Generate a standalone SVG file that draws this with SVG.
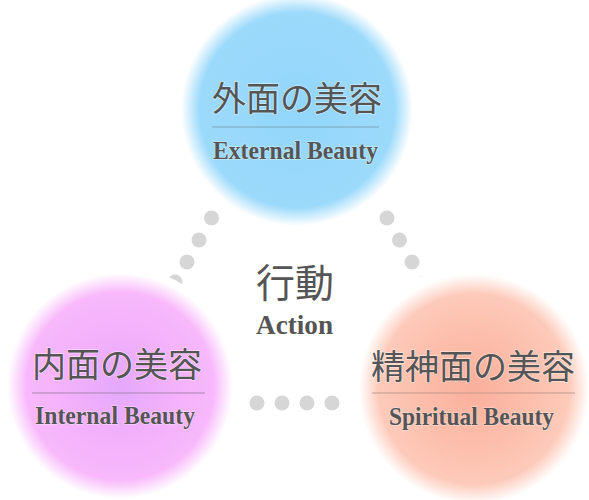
<svg xmlns="http://www.w3.org/2000/svg" width="589" height="500" viewBox="0 0 589 500">
<defs>
<radialGradient id="gBlue" cx="0.5" cy="0.5" r="0.5">
<stop offset="0" stop-color="#92d6fb"/>
<stop offset="0.8" stop-color="#9cdafb"/>
<stop offset="0.95" stop-color="#ffffff"/>
<stop offset="0.99" stop-color="#ffffff"/>
<stop offset="1" stop-color="#ffffff" stop-opacity="0"/>
</radialGradient>
<radialGradient id="gPink" cx="0.5" cy="0.5" r="0.5">
<stop offset="0" stop-color="#e4a8fb"/>
<stop offset="0.4" stop-color="#f2b0fb"/>
<stop offset="0.78" stop-color="#f8b8fb"/>
<stop offset="0.94" stop-color="#ffffff"/>
<stop offset="0.99" stop-color="#ffffff"/>
<stop offset="1" stop-color="#ffffff" stop-opacity="0"/>
</radialGradient>
<radialGradient id="gSalmon" cx="0.5" cy="0.5" r="0.5">
<stop offset="0" stop-color="#f9b09c"/>
<stop offset="0.45" stop-color="#fcbeab"/>
<stop offset="0.76" stop-color="#fdcaba"/>
<stop offset="0.92" stop-color="#ffffff"/>
<stop offset="0.99" stop-color="#ffffff"/>
<stop offset="1" stop-color="#ffffff" stop-opacity="0"/>
</radialGradient>
</defs>
<style>
.dot{fill:#d6d6d6}
.jp{font-family:"Noto Sans CJK JP","Noto Sans CJK SC",sans-serif;font-size:34px;fill:#555555;text-anchor:middle;stroke:#ffffff;stroke-width:1.5;stroke-opacity:0.5;paint-order:stroke}
.en{font-family:"Liberation Serif",serif;font-weight:bold;font-size:25px;fill:#555555;stroke:#ffffff;stroke-width:1.5;stroke-opacity:0.4;paint-order:stroke}
</style>
<rect width="589" height="500" fill="#ffffff"/>
<g id="connectors">
<circle class="dot" cx="211.5" cy="218" r="7.5"/>
<circle class="dot" cx="199" cy="240" r="7.5"/>
<circle class="dot" cx="187" cy="262" r="7.5"/>
<circle class="dot" cx="175" cy="282" r="7.5"/>
<circle class="dot" cx="387" cy="218" r="7.5"/>
<circle class="dot" cx="399.5" cy="240" r="7.5"/>
<circle class="dot" cx="412" cy="262" r="7.5"/>
<circle class="dot" cx="424" cy="283" r="7.5"/>
<circle class="dot" cx="257" cy="403" r="7.5"/>
<circle class="dot" cx="282" cy="403" r="7.5"/>
<circle class="dot" cx="307" cy="403" r="7.5"/>
<circle class="dot" cx="332" cy="403" r="7.5"/>
</g>
<g id="external">
<circle cx="297" cy="110" r="122" fill="url(#gBlue)"/>
<text class="jp" x="297" y="111">外面の美容</text>
<line x1="212" y1="127" x2="379" y2="127" stroke="#7fa6b8" stroke-width="1"/>
<text class="en" x="213" y="159" textLength="165" lengthAdjust="spacingAndGlyphs">External Beauty</text>
</g>
<g id="internal">
<circle cx="120" cy="386" r="120" fill="url(#gPink)"/>
<text class="jp" x="117" y="377">内面の美容</text>
<line x1="32" y1="393" x2="205" y2="393" stroke="#a786ad" stroke-width="1"/>
<text class="en" x="35" y="424" textLength="160" lengthAdjust="spacingAndGlyphs">Internal Beauty</text>
</g>
<g id="spiritual">
<circle cx="474" cy="389" r="125" fill="url(#gSalmon)"/>
<text class="jp" x="473" y="379">精神面の美容</text>
<line x1="372" y1="393" x2="575" y2="393" stroke="#c1998c" stroke-width="1"/>
<text class="en" x="389" y="425" textLength="165" lengthAdjust="spacingAndGlyphs">Spiritual Beauty</text>
</g>
<g id="action">
<text x="295" y="297" font-family="Noto Sans CJK JP, Noto Sans CJK SC, sans-serif" font-size="39" fill="#555555" text-anchor="middle">行動</text>
<text x="256" y="334" font-family="Liberation Serif, serif" font-weight="bold" font-size="27" fill="#555555" textLength="77" lengthAdjust="spacingAndGlyphs">Action</text>
</g>
</svg>
